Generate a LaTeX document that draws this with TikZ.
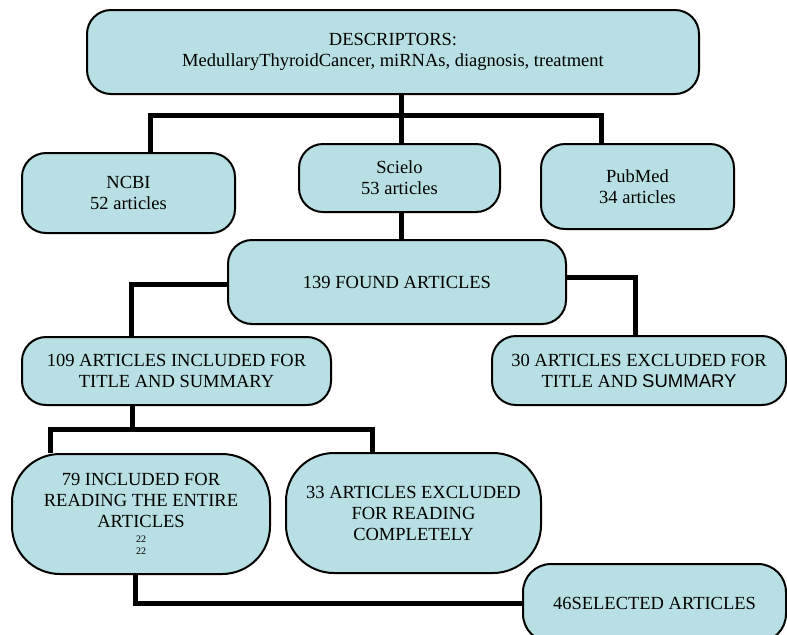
\documentclass[tikz,border=0pt]{standalone}
\usepackage{fontspec}
\setmainfont{Liberation Serif}
\newfontfamily\arialfont{Liberation Sans}
\definecolor{boxfill}{RGB}{184,223,227}

\begin{document}
\begin{tikzpicture}[x=0.5pt, y=-0.5pt,
    box/.style={draw, line width=1pt, fill=boxfill, rounded corners=12pt, align=center, inner sep=0pt, font=\fontsize{9.25}{10.5}\selectfont},
    roundbox/.style={box, rounded corners=24pt},
    link/.style={line width=2.5pt}]
      \useasboundingbox (0,0) rectangle (787,634);
      \clip (0,0) rectangle (787,634);
      \node[box, minimum width=306pt, minimum height=42pt] (desc) at (393,52) {DESCRIPTORS:\\MedullaryThyroidCancer, miRNAs, diagnosis, treatment};
      \node[box, minimum width=106.5pt, minimum height=40pt] (ncbi) at (128.5,193) {NCBI\\52 articles};
      \node[box, minimum width=100.5pt, minimum height=34pt] (scielo) at (399.5,178) {Scielo\\53 articles};
      \node[box, minimum width=96.5pt, minimum height=42.5pt] (pubmed) at (637.5,186.5) {PubMed\\34 articles};
      \node[box, minimum width=169pt, minimum height=42pt] (found) at (397,282) {139 FOUND ARTICLES};
      \node[box, minimum width=154.5pt, minimum height=34pt] (incl) at (176.5,371) {109 ARTICLES INCLUDED FOR\\TITLE AND SUMMARY};
      \node[box, minimum width=147pt, minimum height=34.5pt] (excl) at (639,370.5) {30 ARTICLES EXCLUDED FOR\\TITLE AND {\arialfont SUMMARY}};
      \node[roundbox, minimum width=129pt, minimum height=60pt] (read) at (141,514) {79 INCLUDED FOR\\READING THE ENTIRE\\ARTICLES\\[-3pt]{\fontsize{5}{6}\selectfont 22}\\[-4.5pt]{\fontsize{5}{6}\selectfont 22}};
      \node[roundbox, minimum width=127.5pt, minimum height=60pt] (exread) at (413.5,513) {33 ARTICLES EXCLUDED\\FOR READING\\COMPLETELY};
      \node[box, minimum width=131.5pt, minimum height=39pt, rounded corners=14pt] (sel) at (654.5,603) {46SELECTED ARTICLES};
      \coordinate (split) at (401,115);
      \coordinate (split2) at (132,429);
      \draw[link] (desc.south -| split) -- (split);
      \draw[link] (split) -| (ncbi.north -| 150,0);
      \draw[link] (split) -- (scielo.north -| split);
      \draw[link] (split) -| (pubmed.north -| 601,0);
      \draw[link] (scielo.south -| split) -- (found.north -| split);
      \draw[link] (found.west |- 0,284) -| (incl.north -| 131,0);
      \draw[link] (found.east |- 0,277) -| (excl.north -| 635,0);
      \draw[link] (incl.south -| split2) -- (split2);
      \draw[link] (split2) -| (read.north -| 50,0);
      \draw[link] (split2) -| (exread.north -| 372,0);
      \draw[link] (read.south -| 135,0) |- (sel.west);
\end{tikzpicture}
\end{document}
